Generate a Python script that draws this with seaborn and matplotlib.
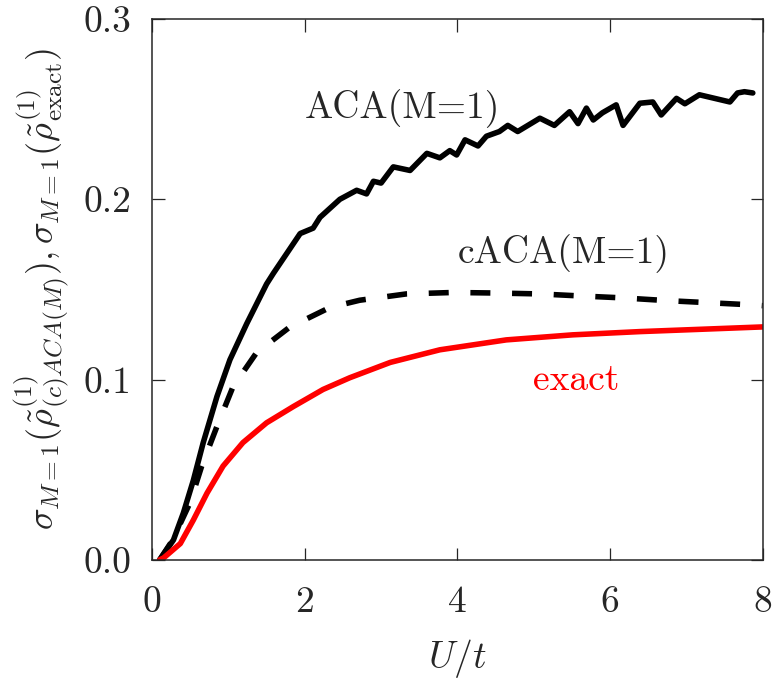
import matplotlib
matplotlib.use("Agg")
import matplotlib.pyplot as plt
import seaborn as sns
import numpy as np
import pandas as pd

# ACA(M=1): noisy black solid curve
u_aca = [0.1, 0.28, 0.41, 0.54, 0.67, 0.85, 1.02, 1.24, 1.5, 1.59, 1.94, 2.11, 2.2,
         2.46, 2.68, 2.81, 2.9, 3.0, 3.16, 3.38, 3.6, 3.77, 3.9, 3.99, 4.1, 4.27, 4.38,
         4.55, 4.66, 4.79, 5.08, 5.27, 5.47, 5.58, 5.69, 5.78, 5.9, 6.08, 6.17, 6.39,
         6.56, 6.67, 6.87, 6.98, 7.17, 7.57, 7.67, 7.76, 7.87]
s_aca = [0.0, 0.011, 0.026, 0.044, 0.065, 0.0906, 0.111, 0.131, 0.153, 0.159, 0.181,
         0.184, 0.19, 0.2, 0.205, 0.203, 0.21, 0.209, 0.218, 0.216, 0.2255, 0.223, 0.227,
         0.2246, 0.233, 0.2296, 0.235, 0.2376, 0.241, 0.2376, 0.245, 0.241, 0.2486, 0.242,
         0.2506, 0.244, 0.248, 0.2524, 0.241, 0.2533, 0.254, 0.2468, 0.256, 0.253, 0.258,
         0.254, 0.259, 0.2597, 0.259]

# cACA(M=1): black dashed curve
u_caca = [0.1, 0.27, 0.5, 0.65, 0.85, 1.06, 1.37, 1.8, 2.33, 2.72, 3.33, 3.94, 4.51,
          5.08, 5.6, 6.17, 6.74, 7.26, 7.87, 8.0]
s_caca = [0.0, 0.011, 0.032, 0.052, 0.074, 0.096, 0.115, 0.129, 0.140, 0.144, 0.1475,
          0.1483, 0.148, 0.1475, 0.1464, 0.1453, 0.1438, 0.1427, 0.1414, 0.141]

# exact: red curve
u_exact = [0.1, 0.15, 0.37, 0.54, 0.72, 0.93, 1.19, 1.5, 1.85, 2.24, 2.59, 3.12, 3.77,
           4.64, 5.51, 6.39, 7.26, 8.0]
s_exact = [0.0, 0.001, 0.009, 0.022, 0.037, 0.052, 0.065, 0.076, 0.085, 0.0945, 0.101,
           0.1095, 0.1165, 0.122, 0.1248, 0.1266, 0.128, 0.1292]

sns.set_style("ticks")
plt.rcParams["font.family"] = ["serif"]
plt.rcParams["font.serif"] = ["cmr10", "DejaVu Serif"]
plt.rcParams["mathtext.fontset"] = "cm"
plt.rcParams["axes.formatter.use_mathtext"] = True

fig = plt.figure(figsize=(7.72, 6.81), dpi=100)
ax = fig.add_axes([0.197, 0.178, 0.791, 0.794])

sns.lineplot(x=u_aca, y=s_aca, ax=ax, color="black", lw=4, sort=False)
sns.lineplot(x=u_caca, y=s_caca, ax=ax, color="black", lw=4, sort=False,
             linestyle=(0, (3.6, 3.9)))
sns.lineplot(x=u_exact, y=s_exact, ax=ax, color="red", lw=4, sort=False)

ax.set_xlim(0, 8)
ax.set_ylim(0, 0.3)
ax.set_xticks([0, 2, 4, 6, 8])
ax.set_yticks([0.0, 0.1, 0.2, 0.3])
ax.set_xticklabels(["0", "2", "4", "6", "8"])
ax.set_yticklabels(["0.0", "0.1", "0.2", "0.3"])
ax.tick_params(direction="in", length=9, width=0.9, top=True, right=True,
               labelsize=27)
ax.tick_params(axis="x", pad=19)
ax.tick_params(axis="y", pad=15)
for sp in ax.spines.values():
    sp.set_linewidth(1.1)

ax.set_xlabel(r"$U/t$", fontsize=27, labelpad=13)
ax.set_ylabel(r"$\sigma_{M=1}(\tilde{\rho}^{(1)}_{(c)ACA(M)}),\sigma_{M=1}(\tilde{\rho}^{(1)}_{\rm exact})$",
              fontsize=26, labelpad=8)

ax.text(2.0, 0.245, "ACA(M=1)", fontsize=27, va="baseline", ha="left")
ax.text(4.0, 0.1647, "cACA(M=1)", fontsize=27, va="baseline", ha="left")
ax.text(4.99, 0.0943, "exact", fontsize=27, va="baseline", ha="left", color="red")

fig.savefig("out.png", dpi=100)
